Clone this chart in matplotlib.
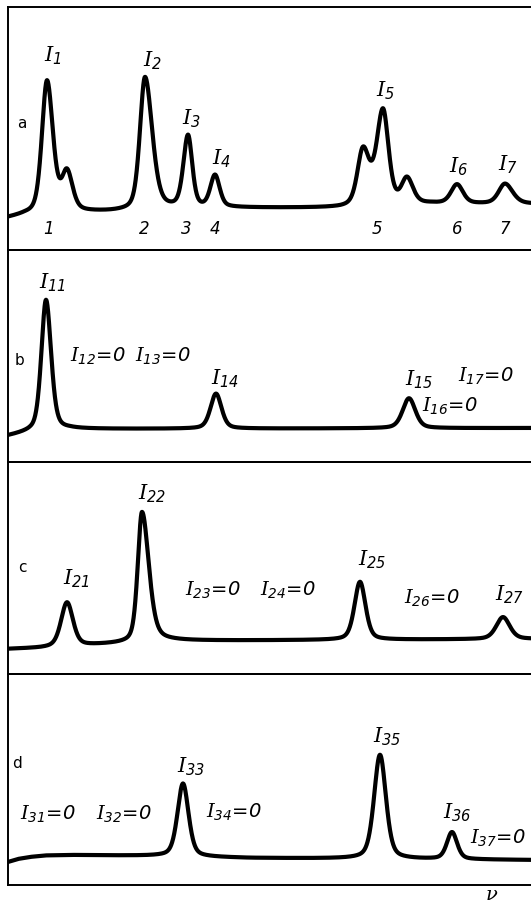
import numpy as np
import matplotlib
matplotlib.use("Agg")
import matplotlib.pyplot as plt

plt.rcParams['mathtext.fontset'] = 'custom'
plt.rcParams['mathtext.it'] = 'DejaVu Serif:italic'
plt.rcParams['mathtext.rm'] = 'DejaVu Sans:italic'
plt.rcParams['mathtext.default'] = 'it'

# ---------------- data (x = frequency position, y = intensity, arbitrary units) ----------------
# panel a
a_pos = [47, 67, 145, 188, 215, 363, 383, 407, 457, 505]
a_hgt = [132, 38, 133, 72, 32, 55, 94, 25, 19, 20]
a_wl = [6.0, 6.0, 6.0, 5.5, 5.5, 6.5, 7.5, 6.5, 7.0, 7.5]
a_wr = [7.0, 6.5, 8.5, 5.0, 5.5, 7.5, 6.5, 7.0, 7.0, 9.0]
a_base_x = [8, 25, 60, 110, 230, 340, 430, 531]
a_base_y = [-11, -8, -6, -5, -1, -1, 3, 3]

# panel b
b_pos = [46, 216, 409]
b_hgt = [131, 35, 30]
b_wl = [5.5, 6.5, 7.5]
b_wr = [6.0, 6.5, 7.5]
b_base_x = [8, 30, 70, 531]
b_base_y = [-8, -4, -1, 0]

# panel c
c_pos = [67, 142, 360, 503]
c_hgt = [44, 130, 58, 22]
c_wl = [7.0, 5.0, 6.5, 8.0]
c_wr = [7.0, 8.0, 6.5, 8.0]
c_base_x = [8, 40, 127, 160, 340, 531]
c_base_y = [-9, -8, -3, -1, 0, 1]

# panel d
d_pos = [183, 380, 452]
d_hgt = [73, 104, 27]
d_wl = [6.5, 7.0, 6.0]
d_wr = [6.5, 7.0, 6.0]
d_base_x = [8, 18, 30, 45, 70, 160, 250, 400, 531]
d_base_y = [-4, -1, 1, 2.5, 3, 2, 0, -1, -2]

# labels: (text, x, y)
a_labels = [(r'$I_{1}$', 53, 151), (r'$I_{2}$', 152, 146), (r'$I_{3}$', 191, 88),
            (r'$I_{4}$', 221, 48), (r'$I_{5}$', 386, 116), (r'$I_{6}$', 459, 40),
            (r'$I_{7}$', 508, 42)]
a_numbers = ['1', '2', '3', '4', '5', '6', '7']
a_number_x = [48, 144, 186, 215, 377, 457, 505]

b_labels = [(r'$I_{11}$', 52, 145), (r'$I_{12}$=0', 98, 73), (r'$I_{13}$=0', 163, 73),
            (r'$I_{14}$', 225, 49), (r'$I_{15}$', 419, 48), (r'$I_{16}$=0', 450, 23),
            (r'$I_{17}$=0', 486, 53)]
c_labels = [(r'$I_{21}$', 76, 61), (r'$I_{22}$', 152, 146), (r'$I_{23}$=0', 213, 50),
            (r'$I_{24}$=0', 288, 50), (r'$I_{25}$', 372, 80), (r'$I_{26}$=0', 432, 43),
            (r'$I_{27}$', 510, 45)]
d_labels = [(r'$I_{31}$=0', 48, 45), (r'$I_{32}$=0', 124, 45), (r'$I_{33}$', 191, 91),
            (r'$I_{34}$=0', 234, 46), (r'$I_{35}$', 387, 121), (r'$I_{36}$', 457, 45),
            (r'$I_{37}$=0', 498, 21)]

panel_letters = ['a', 'b', 'c', 'd']

# ---------------- layout ----------------
W, H = 531, 906
x_left = 8
# (top_px, bottom_px, baseline_px)
panels_px = [(7, 250, 207), (250, 462, 428), (462, 674, 640), (674, 885, 858)]
letter_px = [(22, 123), (20, 360), (22, 567), (17, 763)]

fig = plt.figure(figsize=(W / 100, H / 100), dpi=100)

xs = np.linspace(x_left, W, 3000)


def profile(x, pos, hgt, wl, wr, eta=0.4):
    y = np.zeros_like(x)
    for p, h, l, r in zip(pos, hgt, wl, wr):
        w = np.where(x < p, l, r)
        u = ((x - p) / w) ** 2
        y += h * (eta / (1 + u) + (1 - eta) * np.exp(-np.log(2) * u))
    return y


series = [
    (a_pos, a_hgt, a_wl, a_wr, a_base_x, a_base_y, a_labels),
    (b_pos, b_hgt, b_wl, b_wr, b_base_x, b_base_y, b_labels),
    (c_pos, c_hgt, c_wl, c_wr, c_base_x, c_base_y, c_labels),
    (d_pos, d_hgt, d_wl, d_wr, d_base_x, d_base_y, d_labels),
]

for i, ((top, bot, base), (pos, hgt, wl, wr, bx, by, labels)) in enumerate(zip(panels_px, series)):
    ax = fig.add_axes([x_left / W, 1 - bot / H, (W - x_left) / W, (bot - top) / H])
    ax.set_xlim(x_left, W)
    ax.set_ylim(base - bot, base - top)
    y = profile(xs, pos, hgt, wl, wr) + np.interp(xs, bx, by)
    ax.plot(xs, y, color='black', lw=3.0, solid_capstyle='round', solid_joinstyle='round')
    for s in ['left', 'top', 'bottom']:
        ax.spines[s].set_linewidth(1.4)
    ax.spines['right'].set_visible(False)
    ax.set_xticks([])
    ax.set_yticks([])
    ax.patch.set_alpha(0)
    for txt, tx, ty in labels:
        fs = 14 if '=' in txt else 15
        ax.text(tx, ty, txt, ha='center', va='center', fontsize=fs,
                family='DejaVu Sans', style='italic')
    lx, ly = letter_px[i]
    ax.text(lx, base - ly, panel_letters[i], ha='center', va='center', fontsize=11,
            family='DejaVu Sans')
    if i == 0:
        for n, nx in zip(a_numbers, a_number_x):
            ax.text(nx, base - 229, n, ha='center', va='center', fontsize=12,
                    family='DejaVu Sans', style='italic')

fig.text(492 / W, 1 - 895 / H, r'$\nu$', ha='center', va='center', fontsize=14)

fig.savefig('out.png', dpi=100)
